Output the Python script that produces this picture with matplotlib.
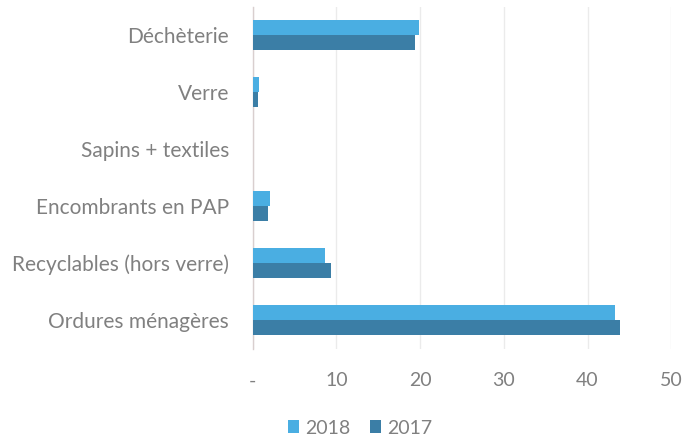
import matplotlib
matplotlib.use("Agg")
import matplotlib.pyplot as plt
import numpy as np

categories = ["Déchèterie", "Verre", "Sapins + textiles", "Encombrants en PAP",
              "Recyclables (hors verre)", "Ordures ménagères"]
values_2018 = [19.8, 0.7, 0.0, 2.1, 8.6, 43.3]
values_2017 = [19.4, 0.6, 0.0, 1.8, 9.3, 43.9]
xticks = [0, 10, 20, 30, 40, 50]
xtick_labels = ["-", "10", "20", "30", "40", "50"]

plt.rcParams['font.family'] = ['Lato', 'DejaVu Sans']
c2018 = "#4aaee2"
c2017 = "#3b7ea6"
gray = "#808080"

fig = plt.figure(figsize=(6.85, 4.38), dpi=100)
ax = fig.add_axes([0.369, 0.204, 0.611, 0.781])

y = np.arange(len(categories))
h = 0.26
ax.barh(y - h / 2, values_2018, height=h, color=c2018, label="2018", zorder=3)
ax.barh(y + h / 2, values_2017, height=h, color=c2017, label="2017", zorder=3)

ax.set_ylim(len(categories) - 0.5, -0.5)
ax.set_xlim(0, 50)
ax.set_yticks(y)
ax.set_yticklabels(categories, fontsize=15, color=gray)
ax.set_xticks(xticks)
ax.set_xticklabels(xtick_labels, fontsize=14, color=gray)
ax.tick_params(axis='both', length=0)
ax.tick_params(axis='x', pad=17)
ax.tick_params(axis='y', pad=17)
ax.grid(axis='x', color="#ebebeb", linewidth=1, zorder=0)
for s in ["top", "right", "bottom"]:
    ax.spines[s].set_visible(False)
ax.spines["left"].set_color("#d9cfcf")
ax.spines["left"].set_linewidth(1)

fig.legend(loc="center", bbox_to_anchor=(360 / 685, 1 - 428 / 438), ncol=2,
           frameon=False, fontsize=14, labelcolor=gray, handlelength=0.6,
           handleheight=0.6, handletextpad=0.3, columnspacing=1.0)

fig.savefig("out.png", dpi=100)
